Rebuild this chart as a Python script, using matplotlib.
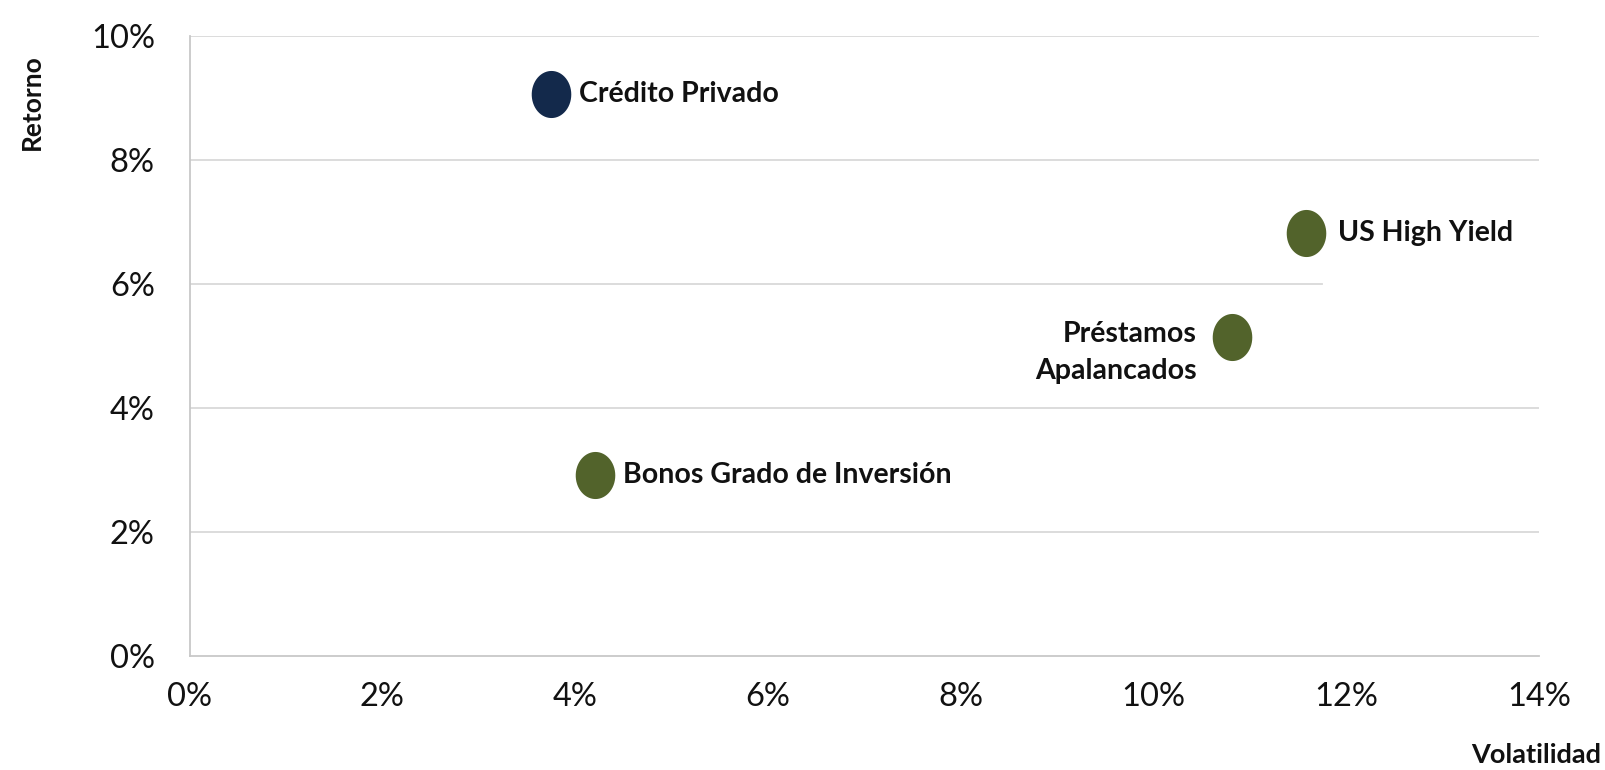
import numpy as np
import matplotlib
matplotlib.use("Agg")
import matplotlib.pyplot as plt

plt.rcParams['font.family'] = ['Lato', 'DejaVu Sans']

# data (percent)
names = ["Crédito Privado", "US High Yield", "Préstamos\nApalancados", "Bonos Grado de Inversión"]
vol = [3.75, 11.58, 10.81, 4.21]
ret = [9.06, 6.81, 5.14, 2.91]
colors = ["#13294b", "#52632b", "#52632b", "#52632b"]
xticks = [0, 2, 4, 6, 8, 10, 12, 14]
yticks = [0, 2, 4, 6, 8, 10]

# label offsets (points) and alignment
offsets = [(20, 0), (23, 0), (-25, -11), (20, 0)]
aligns = ["left", "left", "right", "left"]

fig = plt.figure(figsize=(16.06, 7.70), dpi=100)
ax = fig.add_axes([0.118, 0.1487, 0.8405, 0.8048])

# slightly tall ellipse marker
t = np.linspace(0, 2 * np.pi, 60)
ell = np.column_stack([0.84 * np.cos(t), np.sin(t)])

# gridlines (the 6% line is cut short in the original)
for y in yticks[1:]:
    xmax = 11.75 if y == 6 else 14
    ax.plot([0, xmax], [y, y], color="#d9d9d9", lw=1.3, zorder=0)

for n, x, y, c, off, ha in zip(names, vol, ret, colors, offsets, aligns):
    ax.scatter(x, y, s=1150, marker=ell, color=c, zorder=3, linewidths=0)
    ax.annotate(n, (x, y), xytext=off, textcoords="offset points",
                ha=ha, va="center", fontsize=20.5, fontweight="bold",
                color="#111111", linespacing=1.5)

ax.set_xlim(0, 14)
ax.set_ylim(0, 10)
ax.set_xticks(xticks)
ax.set_yticks(yticks)
ax.set_xticklabels([f"{v}%" for v in xticks], fontsize=23.5, color="#111111")
ax.set_yticklabels([f"{v}%" for v in yticks], fontsize=23.5, color="#111111")
ax.tick_params(length=0)
ax.tick_params(axis="y", pad=25)
ax.tick_params(axis="x", pad=19)

for s in ["top", "right"]:
    ax.spines[s].set_visible(False)
for s in ["left", "bottom"]:
    ax.spines[s].set_color("#c8c8c8")
    ax.spines[s].set_linewidth(1.3)

fig.text(0.02, 0.868, "Retorno", rotation=90, ha="center", va="center",
         fontsize=19, fontweight="bold", color="#111111")
fig.text(0.997, 0.02, "Volatilidad", ha="right", va="center",
         fontsize=19.5, fontweight="bold", color="#111111")

fig.savefig("out.png", dpi=100)
